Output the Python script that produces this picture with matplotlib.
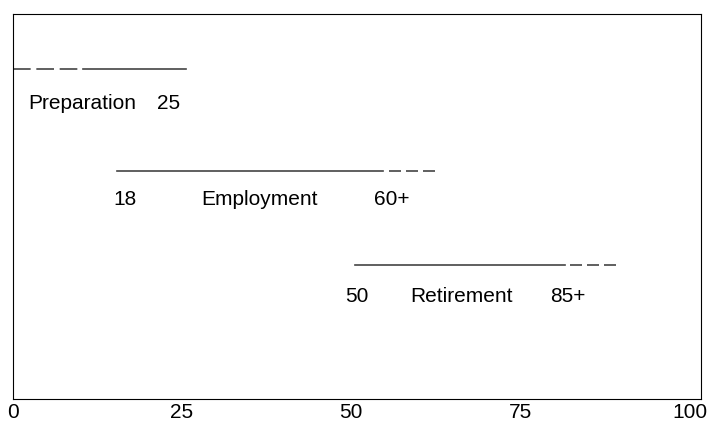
import matplotlib.pyplot as plt

plt.rcParams['font.family'] = ['Liberation Sans', 'DejaVu Sans']

stages = ["Preparation", "Employment", "Retirement"]
rows = [3.43, 2.37, 1.39]
label_rows = [3.07, 2.07, 1.06]
solid_start = [10.4, 15.4, 50.5]
solid_end = [25.6, 54.7, 81.5]
dash_start = [0, 55.6, 82.3]
dash_end = [9.6, 62.4, 89.1]
start_labels = ["", "18", "50"]
end_labels = ["25", "60+", "85+"]
start_label_x = [None, 16.6, 50.8]
name_label_x = [10.3, 36.4, 66.3]
end_label_x = [23.1, 55.9, 81.9]
dash_styles = [(10.6, 3.4), (7.2, 3), (7.2, 3)]

fig = plt.figure(figsize=(7.09, 4.21), dpi=100)
ax = fig.add_axes([12.5 / 709, 22 / 421, (701 - 12.5) / 709, 385 / 421])

for i in range(len(stages)):
    y = rows[i]
    ax.plot([solid_start[i], solid_end[i]], [y, y], color='#444444', lw=1.2)
    ax.plot([dash_start[i], dash_end[i]], [y, y], color='#444444', lw=1.2,
            dashes=dash_styles[i])
    ty = label_rows[i]
    if start_labels[i]:
        ax.text(start_label_x[i], ty, start_labels[i], ha='center', va='center', fontsize=15)
    ax.text(name_label_x[i], ty, stages[i], ha='center', va='center', fontsize=15)
    ax.text(end_label_x[i], ty, end_labels[i], ha='center', va='center', fontsize=15)

ax.set_xlim(0, 101.6)
ax.set_ylim(0, 4)
ax.set_xticks([0, 25, 50, 75, 100])
ax.set_yticks([])
ax.tick_params(axis='x', length=0, labelsize=15, pad=3)

fig.savefig('out.png', dpi=100)
